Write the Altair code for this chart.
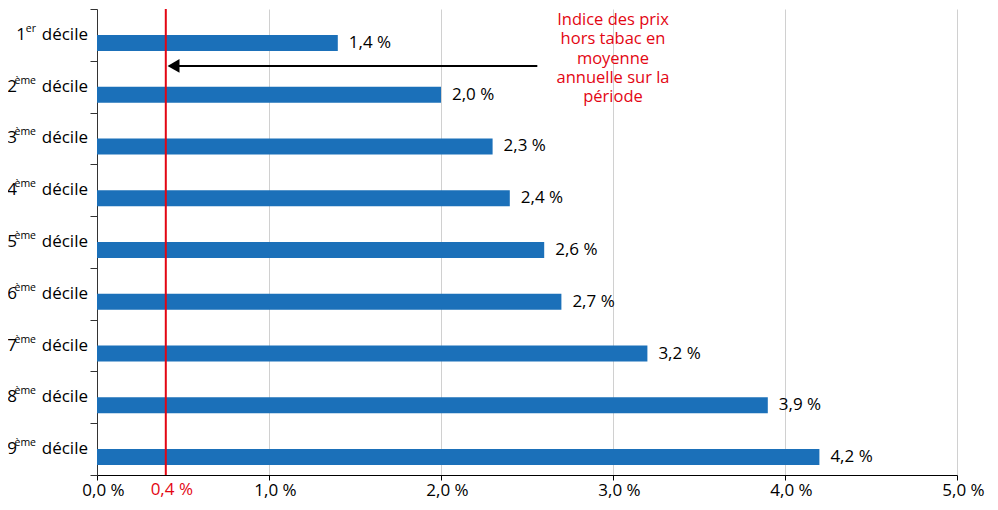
import altair as alt
import pandas as pd

categories = ["1er décile", "2ème décile", "3ème décile", "4ème décile", "5ème décile",
              "6ème décile", "7ème décile", "8ème décile", "9ème décile"]
nums = ["1", "2", "3", "4", "5", "6", "7", "8", "9"]
sups = ["er", "ème", "ème", "ème", "ème", "ème", "ème", "ème", "ème"]
values = [1.4, 2.0, 2.3, 2.4, 2.6, 2.7, 3.2, 3.9, 4.2]
value_labels = ["1,4 %", "2,0 %", "2,3 %", "2,4 %", "2,6 %", "2,7 %", "3,2 %", "3,9 %", "4,2 %"]
ref_value = 0.4
ref_label = "0,4 %"
annotation = ["Indice des prix", "hors tabac en", "moyenne", "annuelle sur la", "période"]
annotation_x = 3.0
arrow_start = 2.56
arrow_tip = 0.445
x_ticks = [0, 1, 2, 3, 4, 5]

FONT = "Open Sans"
RED = "#e30613"
BLUE = "#1b70b9"

df = pd.DataFrame({"cat": categories, "num": nums, "sup": sups, "x": values, "lab": value_labels})


def X(field="x:Q"):
    return alt.X(field, scale=alt.Scale(domain=[0, 5], nice=False, zero=True),
                 axis=alt.Axis(values=x_ticks, title=None,
                               labelExpr="replace(format(datum.value, '.1f'), '.', ',') + ' %'",
                               grid=True, gridColor="#d0d0d0", domainColor="black",
                               tickColor="black", tickSize=5, labelFontSize=17,
                               labelColor="black", labelPadding=2, labelFont=FONT,
                               labelFlush=False, labelOffset=6))


def Y(bp=None):
    kw = {}
    if bp is not None:
        kw["bandPosition"] = bp
    return alt.Y("cat:N", sort=categories,
                 scale=alt.Scale(domain=categories, paddingInner=0, paddingOuter=0),
                 axis=alt.Axis(labels=False, title=None, tickBand="extent", grid=False,
                               domainColor="#333333", tickColor="#333333", tickSize=7),
                 **kw)


base = alt.Chart(df)

bars = base.mark_bar(color=BLUE, height=16, yOffset=8).encode(x=X(), y=Y())
val_text = base.mark_text(align="left", baseline="middle", dx=11, dy=8, fontSize=17,
                          font=FONT, color="black").encode(x=X(), y=Y(), text="lab:N")

lab_df = df.assign(x=0)
lab_base = alt.Chart(lab_df)
dec_text = lab_base.mark_text(align="right", baseline="middle", dx=-9, fontSize=17,
                              font=FONT, color="black").encode(
    x=X(), y=Y(), text=alt.value("décile"))
sup_text = lab_base.mark_text(align="right", baseline="middle", dx=-61, dy=-6, fontSize=10.5,
                              font=FONT, color="black").encode(x=X(), y=Y(), text="sup:N")
num1 = lab_base.transform_filter(alt.datum.sup == "er").mark_text(
    align="right", baseline="middle", dx=-71, fontSize=17, font=FONT, color="black").encode(
    x=X(), y=Y(), text="num:N")
num2 = lab_base.transform_filter(alt.datum.sup != "er").mark_text(
    align="right", baseline="middle", dx=-80, fontSize=17, font=FONT, color="black").encode(
    x=X(), y=Y(), text="num:N")

ref_df = pd.DataFrame({"x": [ref_value], "cat": [categories[-1]], "lab": [ref_label]})
ref_rule = alt.Chart(ref_df).mark_rule(color=RED, strokeWidth=2).encode(x=X())
ref_text = alt.Chart(ref_df).mark_text(align="center", baseline="top", dy=7, dx=6,
                                       fontSize=17, font=FONT, color=RED).encode(
    x=X(), y=Y(1.0), text="lab:N")

arrow_df = pd.DataFrame({"x": [arrow_start], "x2": [arrow_tip], "cat": [categories[1]],
                         "tip": [arrow_tip]})
arrow_line = alt.Chart(arrow_df).mark_rule(color="black", strokeWidth=2).encode(
    x=X(), x2="x2:Q", y=Y(0.1))
arrow_head = alt.Chart(arrow_df).mark_point(shape="triangle-left", filled=True, color="black",
                                            size=190, opacity=1).encode(
    x=X("tip:Q"), y=Y(0.1))

ann_df = pd.DataFrame({"x": [annotation_x], "cat": [categories[0]], "t": [annotation]})
ann_text = alt.Chart(ann_df).mark_text(align="center", baseline="top", dy=3, fontSize=16.5,
                                       lineHeight=19.3, font=FONT, color=RED).encode(
    x=X(), y=Y(0.0), text="t")

chart = alt.layer(bars, val_text, dec_text, sup_text, num1, num2, ref_rule, ref_text,
                  arrow_line, arrow_head, ann_text).properties(
    width=860, height=466,
    autosize=alt.AutoSizeParams(type="none"),
    padding={"left": 89, "top": 1, "right": 33, "bottom": 27},
).configure_view(stroke=None)

chart.save("out.html", embed_options={"renderer": "svg", "actions": False})
